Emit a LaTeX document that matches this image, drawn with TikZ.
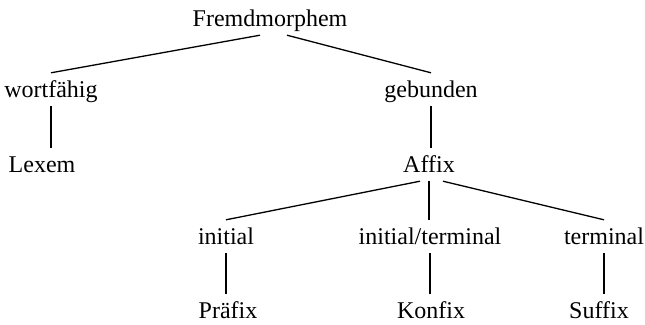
\documentclass[tikz,border=0pt]{standalone}
\usepackage{fontspec}
\setmainfont{Liberation Serif}
\usepackage{tikz}

\tikzset{
  morph/.style={anchor=base, inner xsep=0pt, inner ysep=4pt, text height=20pt, text depth=5pt, font=\fontsize{24}{28}\selectfont},
  branch/.style={line width=1.3pt}
}

\begin{document}
\begin{tikzpicture}[x=1pt, y=-1pt]
    \useasboundingbox (0,0) rectangle (645,324);

    % Root
    \node[morph] (fm) at (270,26) {Fremdmorphem};

    % Free morphemes
    \node[morph] (wf) at (51,97) {wortfähig};
    \node[morph] (lx) at (42,172) {Lexem};

    % Bound morphemes
    \node[morph] (gb) at (431,97) {gebunden};
    \node[morph] (af) at (429,172) {Affix};

    % Affix positions
    \node[morph] (ini) at (226,244) {initial};
    \node[morph] (it) at (430,244) {initial/terminal};
    \node[morph] (te) at (604,244) {terminal};
    \node[morph] (pf) at (228,318) {Präfix};
    \node[morph] (kf) at (431,318) {Konfix};
    \node[morph] (sf) at (599,318) {Suffix};

    % Branches
    \draw[branch] ([xshift=-10pt]fm.south) -- (wf.north);
    \draw[branch] ([xshift=17pt]fm.south) -- (gb.north);
    \draw[branch] (wf.south) -- (wf.south |- lx.north);
    \draw[branch] (gb.south) -- (gb.south |- af.north);
    \draw[branch] ([xshift=-9pt]af.south) -- (ini.north);
    \draw[branch] (af.south) -- (af.south |- it.north);
    \draw[branch] ([xshift=14pt]af.south) -- (te.north);
    \draw[branch] (ini.south) -- (ini.south |- pf.north);
    \draw[branch] (it.south) -- (it.south |- kf.north);
    \draw[branch] (te.south) -- (te.south |- sf.north);
\end{tikzpicture}
\end{document}
